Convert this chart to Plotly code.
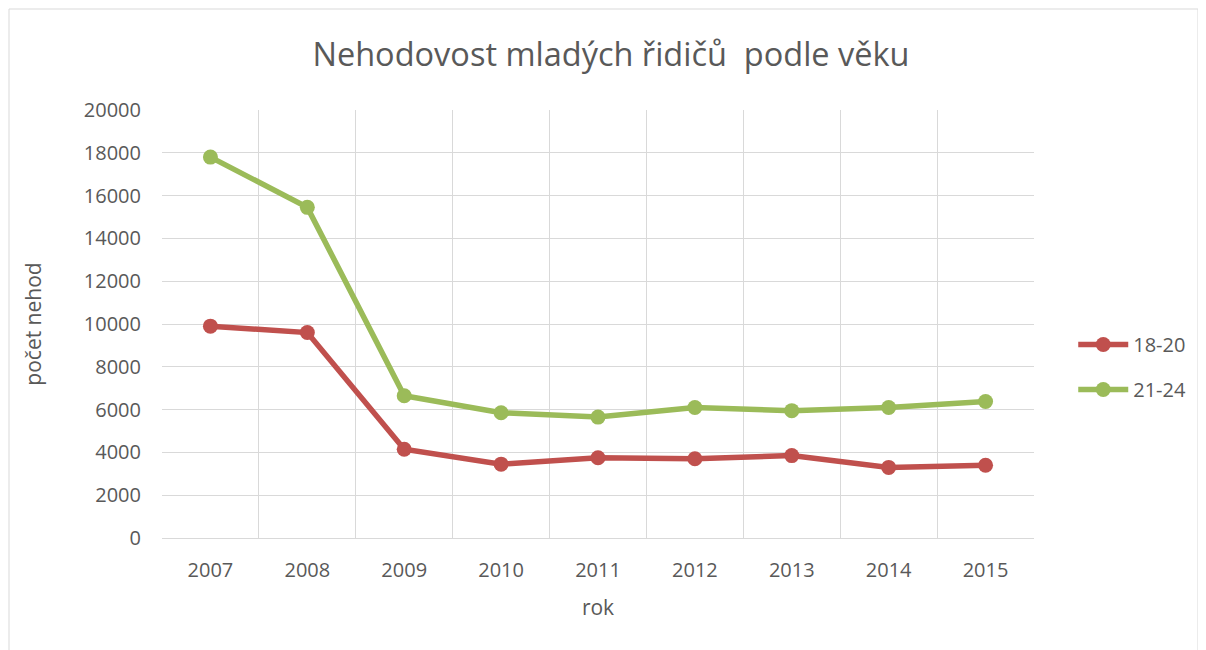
import plotly.graph_objects as go

years = ["2007", "2008", "2009", "2010", "2011", "2012", "2013", "2014", "2015"]
s18_20 = [9900, 9600, 4150, 3450, 3750, 3700, 3850, 3300, 3400]
s21_24 = [17800, 15450, 6650, 5850, 5650, 6100, 5950, 6100, 6380]
y_ticks = list(range(0, 20001, 2000))
y_labels = [str(v) for v in y_ticks]

FONT = "Open Sans, sans-serif"
GRAY = "#595959"

fig = go.Figure()
fig.add_trace(go.Scatter(x=years, y=s18_20, name="18-20", mode="lines+markers",
                         legendgroup="a",
                         line=dict(color="#C0504D", width=5.5),
                         marker=dict(size=15, color="#C0504D")))
fig.add_trace(go.Scatter(x=years, y=s21_24, name="21-24", mode="lines+markers",
                         legendgroup="b",
                         line=dict(color="#9BBB59", width=5.5),
                         marker=dict(size=15, color="#9BBB59")))

# page body has an 8px offset: plot area should be x 162..1034, y 110..538
fig.update_layout(
    width=1206, height=650,
    margin=dict(l=154, r=180, t=102, b=120),
    paper_bgcolor="white", plot_bgcolor="white",
    font=dict(family=FONT, color=GRAY, size=20),
    title=dict(text="Nehodovost mladých řidičů  podle věku", x=0.5, xref="container",
               xanchor="center", y=1 - 47 / 650, yanchor="middle",
               font=dict(size=32.5, color=GRAY, family=FONT)),
    xaxis=dict(type="category", tickson="boundaries", showgrid=True, gridcolor="#d9d9d9",
               gridwidth=1, ticks="", showline=True, linecolor="#d9d9d9", linewidth=1,
               tickfont=dict(size=20), ticklabelstandoff=14,
               title=dict(text="rok", font=dict(size=21), standoff=18),
               range=[-0.5, 8.5], zeroline=False),
    yaxis=dict(range=[0, 20000], tickvals=y_ticks, ticktext=y_labels, showgrid=True,
               gridcolor="#d9d9d9", gridwidth=1, ticks="", zeroline=False,
               tickfont=dict(size=20), ticklabelstandoff=20,
               title=dict(text="počet nehod", font=dict(size=21), standoff=36)),
    legend=dict(x=1.045, y=(538 - 367) / 428, yanchor="middle", xanchor="left",
                font=dict(size=20), itemwidth=50, tracegroupgap=16,
                traceorder="grouped"),
    showlegend=True,
    shapes=[dict(type="rect", xref="paper", yref="paper",
                 x0=(9 - 162) / 872, x1=(1198 - 162) / 872,
                 y0=(538 - 700) / 428, y1=(538 - 9) / 428,
                 line=dict(color="#d9d9d9", width=1), layer="below")],
)

fig.write_html("out.html")
